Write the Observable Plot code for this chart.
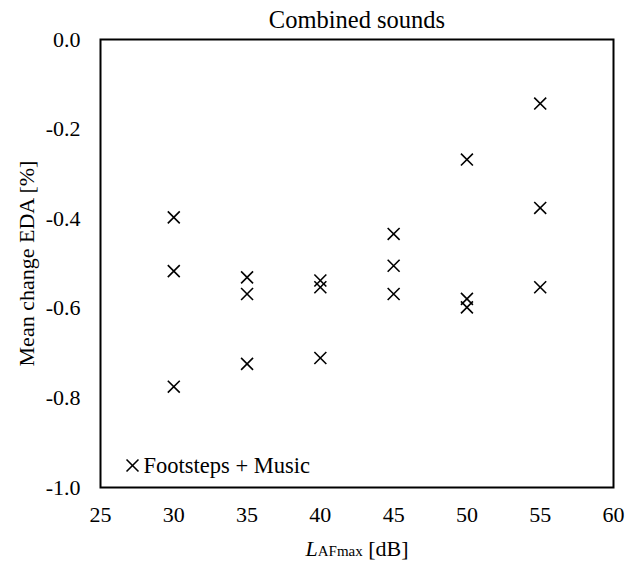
<!DOCTYPE html>
<html>
<head>
<meta charset="utf-8">
<script src="https://cdn.jsdelivr.net/npm/d3@7"></script>
<script src="https://cdn.jsdelivr.net/npm/@observablehq/plot@0.6"></script>
<style>
  html, body { margin: 0; padding: 0; background: #fff; }
  svg { display: block; }
</style>
</head>
<body>
<div id="chart"></div>
<script>
const title = "Combined sounds";
const yLabel = "Mean change EDA [%]";
const xLabel = "LAFmax [dB]";
const seriesName = "Footsteps + Music";

const levels = [30, 30, 30, 35, 35, 35, 40, 40, 40, 45, 45, 45, 50, 50, 50, 55, 55, 55];
const edaChange = [-0.397, -0.517, -0.775, -0.531, -0.568, -0.724, -0.538, -0.553, -0.711,
                   -0.434, -0.505, -0.568, -0.268, -0.579, -0.598, -0.143, -0.376, -0.553];

const xTicks = [25, 30, 35, 40, 45, 50, 55, 60];
const yTicks = [0, -0.2, -0.4, -0.6, -0.8, -1.0];

const data = levels.map((x, i) => ({x, y: edaChange[i]}));
const font = "'Liberation Serif', 'Times New Roman', serif";

const svg = Plot.plot({
  width: 636,
  height: 565,
  marginLeft: 100,
  marginRight: 23,
  marginTop: 39,
  marginBottom: 78,
  style: {fontFamily: font, fontSize: "22px", color: "#000", background: "#fff"},
  x: {domain: [25, 60]},
  y: {domain: [-1, 0]},
  marks: [
    Plot.frame({stroke: "#000", strokeWidth: 2}),
    Plot.axisX({ticks: xTicks, tickSize: 0, tickPadding: 19, label: null, fontSize: 22, tickFormat: d => String(d)}),
    Plot.axisY({ticks: yTicks, tickSize: 0, tickPadding: 20, label: null, fontSize: 22, tickFormat: d => d.toFixed(1)}),
    Plot.dot(data, {x: "x", y: "y", symbol: "times", r: 5.5, stroke: "#000", strokeWidth: 1.6}),
    Plot.text([title], {frameAnchor: "top", dy: -19, lineAnchor: "middle", textAnchor: "middle", fontSize: 24.5, fill: "#000"}),
    Plot.text([yLabel], {frameAnchor: "left", dx: -74, rotate: -90, lineAnchor: "middle", textAnchor: "middle", fontSize: 22, fill: "#000"}),
    Plot.text([xLabel], {frameAnchor: "bottom", dy: 61, lineAnchor: "middle", textAnchor: "middle", fontSize: 22, fill: "#000"}),
    Plot.dot([seriesName], {frameAnchor: "bottom-left", dx: 32, dy: -22, symbol: "times", r: 5.5, stroke: "#000", strokeWidth: 1.6}),
    Plot.text([seriesName], {frameAnchor: "bottom-left", dx: 43, dy: -22, lineAnchor: "middle", textAnchor: "start", fontSize: 22.5, fill: "#000"})
  ]
});

d3.select(svg).selectAll("text").filter(function() { return this.textContent === xLabel; })
  .each(function() {
    const t = d3.select(this);
    t.text(null);
    t.append("tspan").attr("font-style", "italic").text("L");
    t.append("tspan").attr("font-size", "15px").text("AFmax");
    t.append("tspan").text(" [dB]");
  });

document.getElementById("chart").appendChild(svg);
</script>
</body>
</html>
